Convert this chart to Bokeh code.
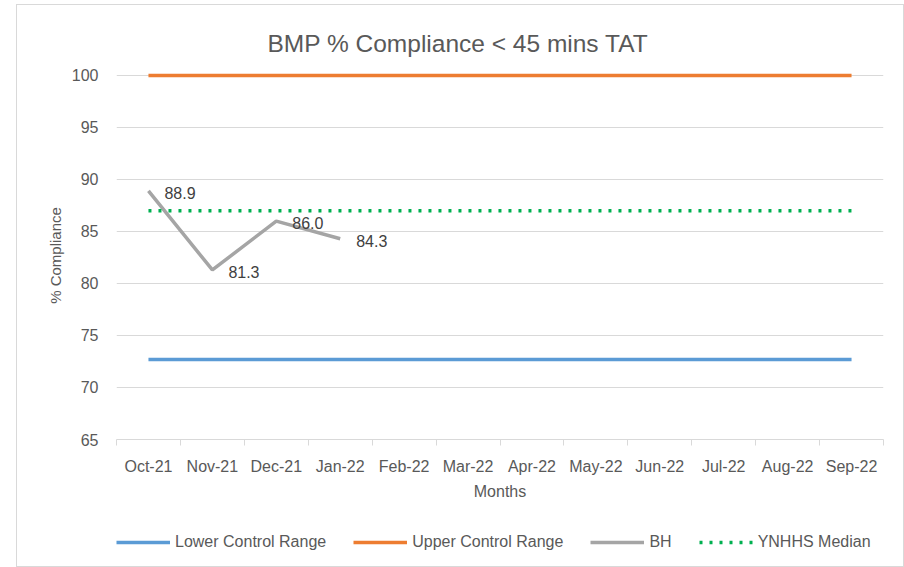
from bokeh.plotting import figure
from bokeh.models import (ColumnDataSource, FixedTicker, Legend, LegendItem,
                          LabelSet, Title, Range1d)
from bokeh.layouts import column
from bokeh.core.properties import value
from bokeh.embed import file_html
from bokeh.resources import INLINE

months = ["Oct-21", "Nov-21", "Dec-21", "Jan-22", "Feb-22", "Mar-22",
          "Apr-22", "May-22", "Jun-22", "Jul-22", "Aug-22", "Sep-22"]
lower_control = [72.7] * 12
upper_control = [100.0] * 12
ynhhs_median = [87.0] * 12
bh_months = ["Oct-21", "Nov-21", "Dec-21", "Jan-22"]
bh_values = [88.9, 81.3, 86.0, 84.3]
y_ticks = [65, 70, 75, 80, 85, 90, 95, 100]

FONT = "Liberation Sans"
TXT = "#595959"
COLORS = dict(low="#5B9BD5", up="#ED7D31", bh="#A5A5A5", med="#00B050")

xc = [i + 0.5 for i in range(len(months))]
bh_x = [months.index(m) + 0.5 for m in bh_months]


def draw_series(fig):
    r1 = fig.line(xc, lower_control, line_color=COLORS["low"], line_width=3.5)
    r2 = fig.line(xc, upper_control, line_color=COLORS["up"], line_width=3.5)
    r3 = fig.line(bh_x, bh_values, line_color=COLORS["bh"], line_width=3.5)
    r4 = fig.line(xc, ynhhs_median, line_color=COLORS["med"], line_width=3.5,
                  line_dash="3 7")
    return r1, r2, r3, r4


# ---------- main chart ----------
p = figure(width=886, height=511, output_backend="svg", toolbar_location=None,
           x_range=Range1d(0, len(months)), y_range=Range1d(65, 100.38),
           min_border_left=99, min_border_right=20, min_border_top=66,
           min_border_bottom=77)
p.outline_line_color = None
p.background_fill_color = "white"
p.border_fill_color = "white"

p.title = Title(text="BMP % Compliance < 45 mins TAT", align="left",
                text_font=FONT, text_font_size="24.5px", text_color=TXT,
                text_font_style="normal", offset=151, standoff=29)

draw_series(p)

src = ColumnDataSource(dict(x=bh_x, y=bh_values,
                            t=["%.1f" % v for v in bh_values]))
p.add_layout(LabelSet(x="x", y="y", text="t", source=src, x_offset=16,
                      y_offset=-2, text_baseline="middle",
                      text_font_size=value("16px"), text_font=value(FONT),
                      text_color="#404040"))

xa = p.xaxis[0]
xa.ticker = FixedTicker(ticks=xc, minor_ticks=list(range(len(months) + 1)))
xa.major_label_overrides = {x: m for x, m in zip(xc, months)}
xa.major_tick_line_color = None
xa.minor_tick_line_color = "#d9d9d9"
xa.minor_tick_in = 0
xa.minor_tick_out = 6
xa.axis_line_color = "#d9d9d9"
xa.major_label_text_font = FONT
xa.major_label_text_font_size = "16px"
xa.major_label_text_color = TXT
xa.major_label_standoff = 12
xa.axis_label = "Months"
xa.axis_label_text_font = FONT
xa.axis_label_text_font_size = "16px"
xa.axis_label_text_color = TXT
xa.axis_label_text_font_style = "normal"
xa.axis_label_standoff = 5

ya = p.yaxis[0]
ya.ticker = FixedTicker(ticks=y_ticks)
ya.axis_line_color = None
ya.major_tick_line_color = None
ya.minor_tick_line_color = None
ya.major_tick_out = 0
ya.major_label_text_font = FONT
ya.major_label_text_font_size = "16px"
ya.major_label_text_color = TXT
ya.major_label_standoff = 18
ya.axis_label = "% Compliance"
ya.axis_label_text_font = FONT
ya.axis_label_text_font_size = "15px"
ya.axis_label_text_color = TXT
ya.axis_label_text_font_style = "normal"
ya.axis_label_standoff = 5

p.xgrid.grid_line_color = None
p.ygrid.ticker = FixedTicker(ticks=y_ticks)
p.ygrid.grid_line_color = "#d9d9d9"
p.ygrid.grid_line_width = 1

# ---------- legend strip (series drawn outside its view, legend only) ----------
pl = figure(width=886, height=50, output_backend="svg", toolbar_location=None,
            x_range=Range1d(0, len(months)), y_range=Range1d(0, 1),
            x_axis_location=None, y_axis_location=None, min_border=0)
pl.grid.visible = False
pl.outline_line_color = None
pl.border_fill_color = "white"
rl = draw_series(pl)

legend = Legend(items=[
    LegendItem(label="Lower Control Range", renderers=[rl[0]]),
    LegendItem(label="Upper Control Range", renderers=[rl[1]]),
    LegendItem(label="BH", renderers=[rl[2]]),
    LegendItem(label="YNHHS Median", renderers=[rl[3]]),
], orientation="horizontal", location=(0, 14), border_line_color=None,
    background_fill_alpha=0, label_text_font=FONT, label_text_font_size="16px",
    label_text_color=TXT, glyph_width=54, glyph_height=20, spacing=27,
    label_standoff=5, padding=0, margin=0)
pl.add_layout(legend, "center")

layout = column(p, pl, spacing=0, margin=(4, 0, 0, 16),
                styles={"border": "1px solid #d9d9d9"})

open("out.html", "w").write(file_html(layout, INLINE))
